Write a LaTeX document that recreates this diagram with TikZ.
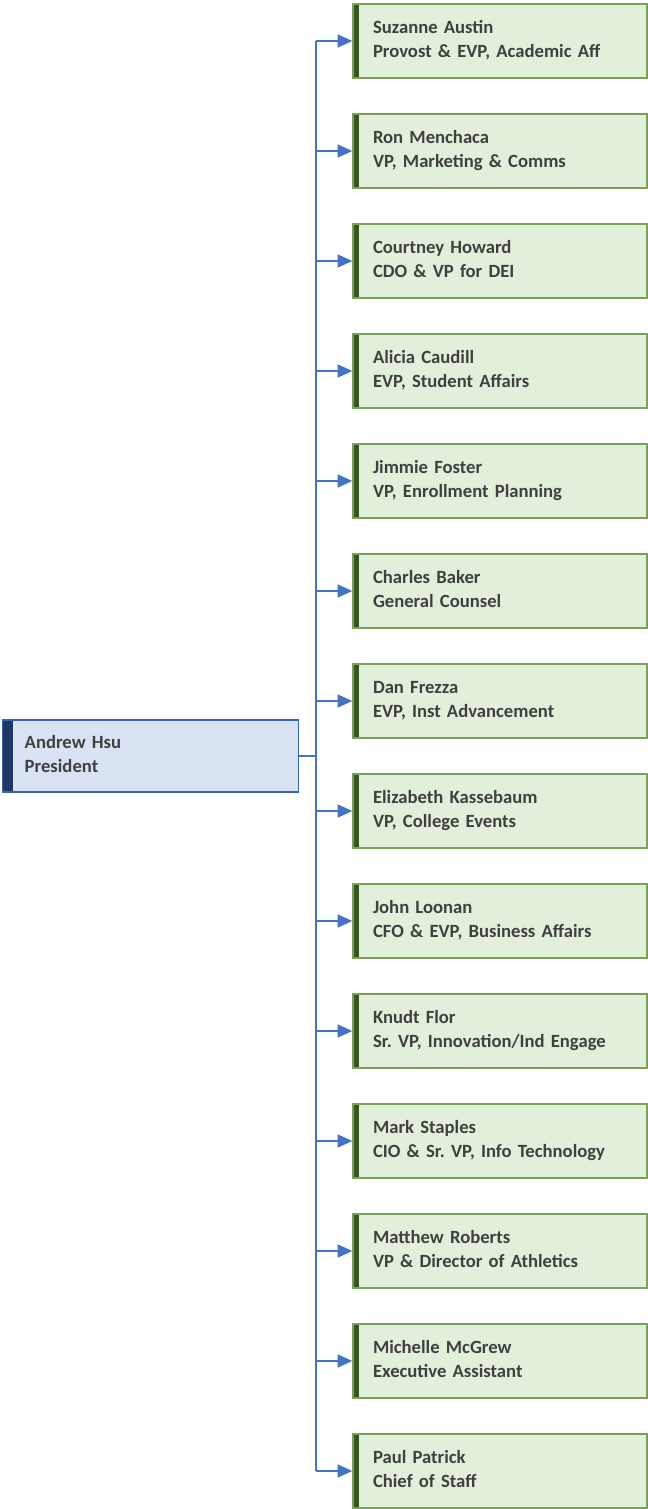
\documentclass[tikz,border=0pt]{standalone}
\usepackage{fontspec}
\setmainfont{Carlito}
\usetikzlibrary{arrows.meta}
\frenchspacing
\definecolor{presfill}{HTML}{DAE3F3}
\definecolor{presline}{HTML}{3A63A8}
\definecolor{presbar}{HTML}{1F3864}
\definecolor{vpfill}{HTML}{E2EFDA}
\definecolor{vpline}{HTML}{7AA05A}
\definecolor{vpbar}{HTML}{375623}
\definecolor{linkblue}{HTML}{4472C4}
\definecolor{txtgray}{HTML}{404040}
\tikzset{
  boxtext/.style={align=left, text=txtgray, font=\fontsize{14}{18}\selectfont\bfseries},
  presbox/.style={boxtext, draw=presline, fill=presfill, line width=0.9pt,
    minimum width=221.7pt, minimum height=54pt, inner xsep=16.5pt, text width=188.7pt,
    path picture={\fill[presbar] (path picture bounding box.south west) rectangle
      ([xshift=7.5pt]path picture bounding box.north west);}},
  vpbox/.style={boxtext, draw=vpline, fill=vpfill, line width=0.9pt,
    minimum width=220.5pt, minimum height=55.5pt, inner xsep=15pt, text width=190.5pt,
    path picture={\fill[vpbar] (path picture bounding box.south west) rectangle
      ([xshift=4.5pt]path picture bounding box.north west);}},
  link/.style={draw=linkblue, line width=1.5pt},
  linkarrow/.style={link, -{Triangle[length=11pt, width=9.5pt]}}
}
\begin{document}
\begin{tikzpicture}[x=0.75pt, y=-0.75pt]
  \useasboundingbox (0,0) rectangle (648,1509);

  % President
  \node [presbox] (pres) at (150.5,756) {Andrew Hsu\strut\\President\strut};

  % Direct reports
  \foreach \nm/\ttl [count=\i] in {
      Suzanne Austin/{Provost \& EVP, Academic Aff},
      Ron Menchaca/{VP, Marketing \& Comms},
      Courtney Howard/{CDO \& VP for DEI},
      Alicia Caudill/{EVP, Student Affairs},
      Jimmie Foster/{VP, Enrollment Planning},
      Charles Baker/{General Counsel},
      Dan Frezza/{EVP, Inst Advancement},
      Elizabeth Kassebaum/{VP, College Events},
      John Loonan/{CFO \& EVP, Business Affairs},
      Knudt Flor/{Sr. VP, Innovation/Ind Engage},
      Mark Staples/{CIO \& Sr. VP, Info Technology},
      Matthew Roberts/{VP \& Director of Athletics},
      Michelle McGrew/{Executive Assistant},
      Paul Patrick/{Chief of Staff}}
    \node [vpbox] (vp\i) at (500,{41+110*(\i-1)}) {\nm\strut\\\ttl\strut};

  % Drawing the bus
  \coordinate (bus) at ([xshift=12.75pt]pres.east);
  \draw [link] (pres.east) -- (bus);
  \draw [link] (bus |- vp1.west) -- (bus |- vp14.west);

  % Drawing the arrows
  \foreach \i in {1,...,14}
    \draw [linkarrow] (bus |- vp\i.west) -- (vp\i.west);
\end{tikzpicture}
\end{document}
